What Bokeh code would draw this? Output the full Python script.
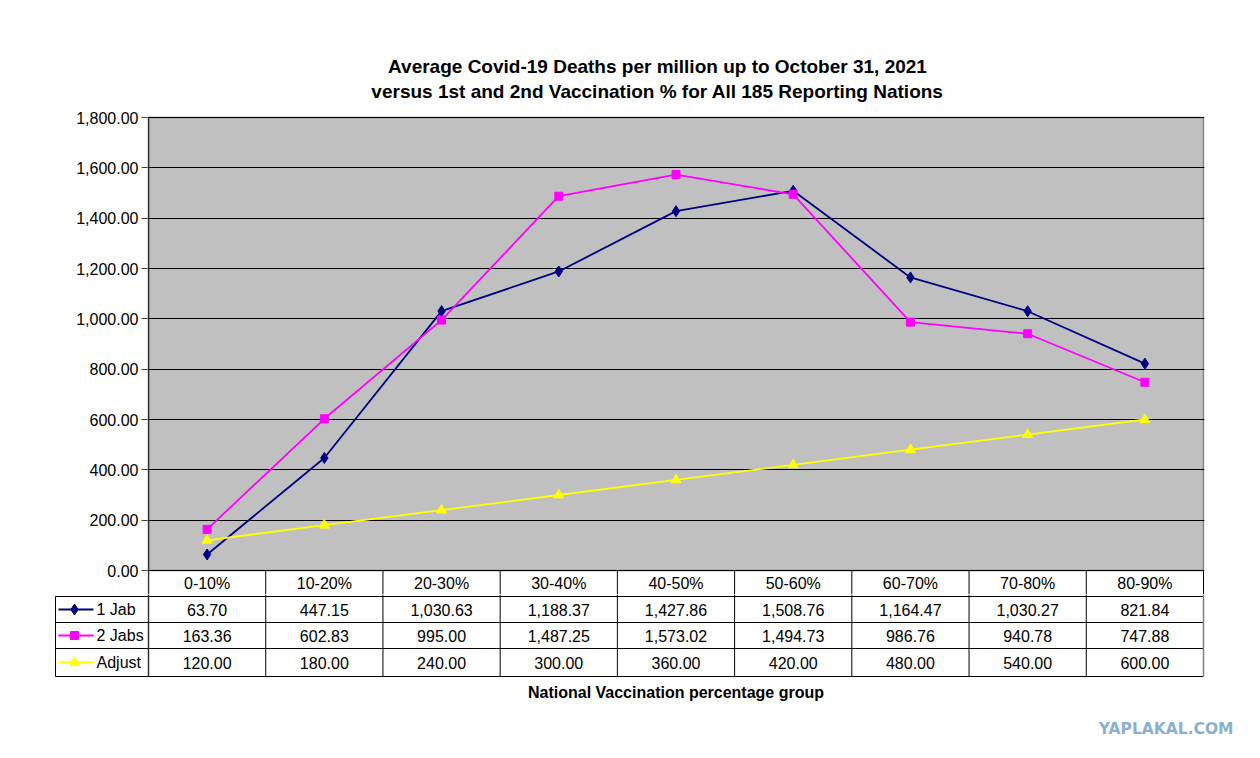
from bokeh.plotting import figure
from bokeh.layouts import column, row
from bokeh.models import Range1d, FixedTicker, CustomJSTickFormatter, ColumnDataSource
from bokeh.core.properties import value
from bokeh.embed import file_html
from bokeh.resources import INLINE
import numpy as np

categories = ["0-10%", "10-20%", "20-30%", "30-40%", "40-50%", "50-60%", "60-70%", "70-80%", "80-90%"]
one_jab = [63.70, 447.15, 1030.63, 1188.37, 1427.86, 1508.76, 1164.47, 1030.27, 821.84]
two_jabs = [163.36, 602.83, 995.00, 1487.25, 1573.02, 1494.73, 986.76, 940.78, 747.88]
adjust = [120.00, 180.00, 240.00, 300.00, 360.00, 420.00, 480.00, 540.00, 600.00]
series_names = ["1 Jab", "2 Jabs", "Adjust"]
y_ticks = [0, 200, 400, 600, 800, 1000, 1200, 1400, 1600, 1800]
title_lines = ["Average Covid-19 Deaths per million up to October 31, 2021",
               "versus 1st and 2nd Vaccination % for All 185 Reporting Nations"]
x_title = "National Vaccination percentage group"
watermark = "YAPLAKAL.COM"

FONT = "Liberation Sans"
W = 1252
n = len(categories)
xs = np.arange(n) + 0.5
YMAX = 1800

# layout geometry (page pixels)
PX_L, PX_R = 148, 1203          # plot area left / right
PX_T, PX_B = 117, 570           # plot area top / bottom (value 1800 / 0)
SPLIT = 594                     # boundary between chart canvas and table canvas
TAB_L = 55
ROW_LINES = [596, 622, 648, 676]
BOTTOM = 750
upx = (PX_R - PX_L) / n         # pixels per category
vpx = (PX_B - PX_T) / YMAX      # pixels per value unit

def vx(px):
    return (px - PX_L) / upx

def vy(py):
    return (PX_B - py) / vpx

colors = ["#000080", "#FF00FF", "#FFFF00"]
markers = ["diamond", "square", "triangle"]
msizes = [11, 8, 10]
LW = 1.8

# ---------------- chart canvas ----------------
p = figure(width=W, height=SPLIT, output_backend="svg", toolbar_location=None,
           x_range=Range1d(vx(PX_L - 1), vx(PX_R + 1)), y_range=Range1d(vy(SPLIT), vy(0)),
           min_border_top=0, min_border_bottom=0, min_border_left=PX_L - 1,
           min_border_right=W - (PX_R + 1), x_axis_location=None)
p.background_fill_color = "white"
p.border_fill_color = "white"
p.outline_line_color = None
p.xgrid.visible = False

bg = p.quad(left=[0], right=[n], bottom=[0], top=[YMAX], fill_color="#C0C0C0",
            line_color="#808080", line_width=1.5)
bg.level = "image"

p.ygrid.ticker = FixedTicker(ticks=y_ticks)
p.ygrid.grid_line_color = "#000000"
p.ygrid.grid_line_width = 1
p.yaxis.ticker = FixedTicker(ticks=y_ticks)
p.yaxis.formatter = CustomJSTickFormatter(code="""
return tick.toLocaleString('en-US', {minimumFractionDigits: 2, maximumFractionDigits: 2});
""")
p.yaxis.major_label_text_font = FONT
p.yaxis.major_label_text_font_size = "16px"
p.yaxis.major_label_text_color = "#000000"
p.yaxis.axis_line_color = None
p.yaxis.major_tick_line_color = "#404040"
p.yaxis.major_tick_out = 6
p.yaxis.major_tick_in = 0
p.yaxis.minor_tick_line_color = None
p.yaxis.major_label_standoff = 3

# y axis line continuing down as table border, and header cell separators
p.segment(x0=[0], x1=[0], y0=[vy(SPLIT)], y1=[YMAX], line_color="#303030", line_width=1.5)
hx = list(range(1, n + 1))
p.segment(x0=hx, x1=hx, y0=[vy(SPLIT)] * n, y1=[0] * n, line_color="#000000", line_width=1)

# title
p.text(x=[vx(657)] * 2, y=[vy(66), vy(91)], text=title_lines, text_font=value(FONT),
       text_font_size="19px", text_font_style="bold", text_align="center",
       text_baseline="middle", text_color="#000000")

# header row of data table
p.text(x=xs, y=[vy(583)] * n, text=categories, text_font=value(FONT), text_font_size="16px",
       text_align="center", text_baseline="middle", text_color="#000000")

src = ColumnDataSource(dict(x=xs, a=one_jab, b=two_jabs, c=adjust))
for key, col, mk, ms in [("a", colors[0], markers[0], msizes[0]),
                         ("b", colors[1], markers[1], msizes[1]),
                         ("c", colors[2], markers[2], msizes[2])]:
    p.line("x", key, source=src, line_color=col, line_width=LW)
    p.scatter("x", key, source=src, marker=mk, size=ms, fill_color=col, line_color=col)

# ---------------- table canvas ----------------
q = figure(width=W, height=BOTTOM - SPLIT, output_backend="svg", toolbar_location=None,
           x_range=Range1d(vx(0), vx(W)), y_range=Range1d(BOTTOM, SPLIT),
           min_border_top=0, min_border_bottom=0, min_border_left=0, min_border_right=0,
           x_axis_location=None, y_axis_location=None)
q.outline_line_color = None
q.grid.visible = False
q.background_fill_color = "white"
q.border_fill_color = "white"

xl = vx(TAB_L)
q.segment(x0=[xl] * 4, x1=[n] * 4, y0=ROW_LINES, y1=ROW_LINES, line_color="#000000", line_width=1)
q.segment(x0=list(range(n)), x1=list(range(n)), y0=[SPLIT] * n, y1=[ROW_LINES[-1]] * n,
          line_color="#000000", line_width=1)
q.segment(x0=[0], x1=[0], y0=[SPLIT], y1=[ROW_LINES[-1]], line_color="#303030", line_width=1.5)
q.segment(x0=[n], x1=[n], y0=[SPLIT], y1=[ROW_LINES[-1]], line_color="#808080", line_width=1.5)
q.segment(x0=[xl], x1=[xl], y0=[ROW_LINES[0]], y1=[ROW_LINES[-1]], line_color="#000000", line_width=1)

rows = [one_jab, two_jabs, adjust]
for r, vals in enumerate(rows):
    yc = (ROW_LINES[r] + ROW_LINES[r + 1]) / 2
    q.text(x=xs, y=[yc] * n, text=[f"{v:,.2f}" for v in vals], text_font=value(FONT),
           text_font_size="16px", text_align="center", text_baseline="middle", text_color="#000000")
    q.segment(x0=[vx(58)], x1=[vx(93)], y0=[yc], y1=[yc], line_color=colors[r], line_width=LW)
    q.scatter(x=[vx(74)], y=[yc], marker=markers[r], size=msizes[r], fill_color=colors[r],
              line_color=colors[r])
    q.text(x=[vx(96)], y=[yc], text=[series_names[r]], text_font=value(FONT),
           text_font_size="16px", text_align="left", text_baseline="middle", text_color="#000000")

q.text(x=[n / 2], y=[692], text=[x_title], text_font=value(FONT), text_font_size="16px",
       text_font_style="bold", text_align="center", text_baseline="middle", text_color="#000000")
q.text(x=[vx(1233)], y=[728], text=[watermark], text_font=value("DejaVu Sans"),
       text_font_size="15.5px", text_font_style="bold", text_align="right", text_baseline="middle",
       text_color="#8AB0D0")

layout = column(row(p), row(q), spacing=0)
open("out.html", "w").write(file_html(layout, INLINE))
